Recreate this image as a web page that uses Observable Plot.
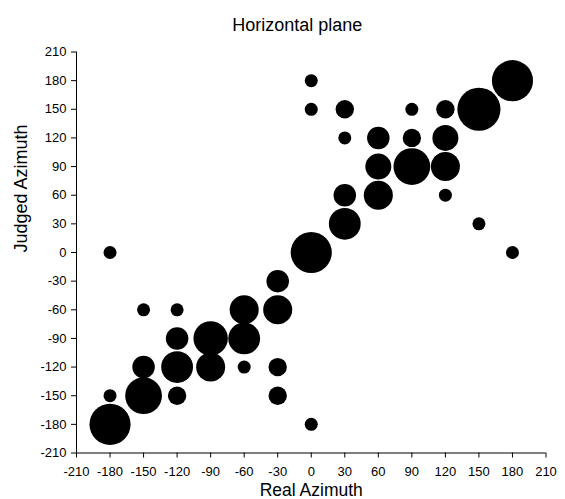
<!DOCTYPE html>
<html><head><meta charset="utf-8">
<script src="https://cdn.jsdelivr.net/npm/d3@7"></script>
<script src="https://cdn.jsdelivr.net/npm/@observablehq/plot@0.6"></script>
<style>body{margin:0;background:#fff} svg{display:block}</style>
</head><body><div id="chart"></div>
<script>
// Real (presented) azimuth, judged azimuth and number of responses (bubble size)
const realAzimuth   = [0, 0, 30, 90, 120, 150, 180, 30, 60, 90, 120, 60, 90, 120, 30, 60, 120, 30, 150, 0, 180, -180, -30, -150, -120, -60, -30, -120, -90, -60, -150, -120, -90, -60, -30, -180, -150, -120, -30, -180, 0];
const judgedAzimuth = [180, 150, 150, 150, 150, 150, 180, 120, 120, 120, 120, 90, 90, 90, 60, 60, 60, 30, 30, 0, 0, 0, -30, -60, -60, -60, -60, -90, -90, -90, -120, -120, -120, -120, -120, -150, -150, -150, -150, -180, -180];
const responseCount = [1, 1, 2, 1, 2, 11, 10, 1, 3, 2, 4, 4, 8, 5, 3, 5, 1, 6, 1, 10, 1, 1, 3, 1, 1, 5, 5, 3, 7, 6, 3, 6, 5, 1, 2, 1, 8, 2, 2, 10, 1];
const tickValues = [-210, -180, -150, -120, -90, -60, -30, 0, 30, 60, 90, 120, 150, 180, 210];
const titleText = "Horizontal plane";
const xLabel = "Real Azimuth";
const yLabel = "Judged Azimuth";

const data = realAzimuth.map((x, i) => ({x, y: judgedAzimuth[i], n: responseCount[i]}));
const lo = tickValues[0], hi = tickValues[tickValues.length - 1];
const fmt = d => String(d);

const chart = Plot.plot({
  width: 565,
  height: 499,
  marginLeft: 76,
  marginRight: 19.5,
  marginTop: 51.5,
  marginBottom: 46.5,
  style: {fontFamily: "'Liberation Sans', Arial, sans-serif", fontSize: "13px", color: "#000", background: "#fff", overflow: "visible"},
  x: {domain: [lo, hi]},
  y: {domain: [lo, hi]},
  r: {type: "sqrt", domain: [0, 11], range: [0, 6.5 * Math.sqrt(11)]},
  marks: [
    Plot.ruleX([lo], {stroke: "#000", strokeWidth: 1}),
    Plot.ruleY([lo], {stroke: "#000", strokeWidth: 1}),
    Plot.axisX({ticks: tickValues, tickFormat: fmt, tickSize: 5, tickPadding: 9, label: null, fontSize: 13}),
    Plot.axisY({ticks: tickValues, tickFormat: fmt, tickSize: 5, tickPadding: 5, label: null, fontSize: 13}),
    Plot.dot(data, {x: "x", y: "y", r: "n", fill: "#000", stroke: "none"}),
    Plot.text([titleText], {frameAnchor: "top", lineAnchor: "bottom", dx: -14, dy: -21, fontSize: 18, fill: "#000"}),
    Plot.text([xLabel], {frameAnchor: "bottom", lineAnchor: "bottom", dy: 42.5, fontSize: 17.5, fill: "#000"}),
    Plot.text([yLabel], {frameAnchor: "left", lineAnchor: "top", rotate: -90, dx: -62, fontSize: 18, fill: "#000"})
  ]
});
document.getElementById("chart").appendChild(chart);
</script>
</body></html>
